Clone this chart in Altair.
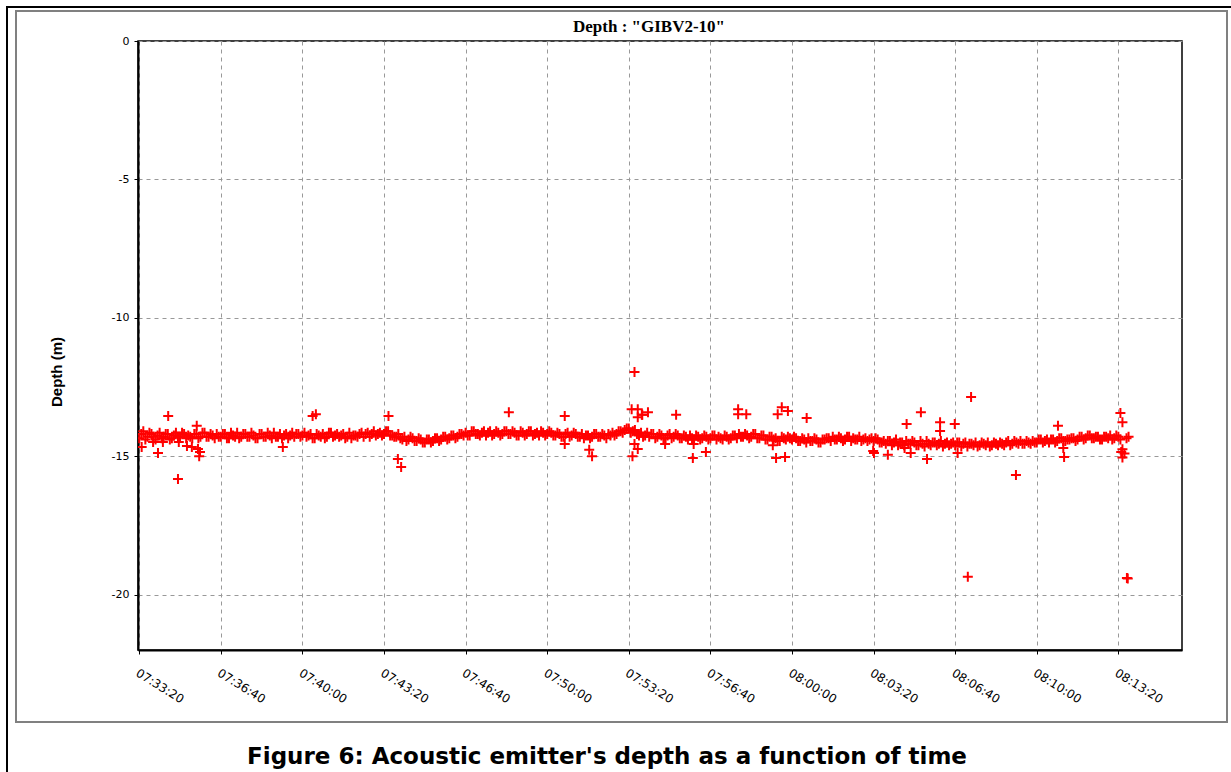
import altair as alt
import pandas as pd

# ---------------- data ----------------
x_tick_labels = ["07:33:20", "07:36:40", "07:40:00", "07:43:20", "07:46:40",
                 "07:50:00", "07:53:20", "07:56:40", "08:00:00", "08:03:20",
                 "08:06:40", "08:10:00", "08:13:20"]
y_tick_values = [0, -5, -10, -15, -20]

band_start = "07:33:20"
band_step_s = 10
# dense band, samples on the 10 s marks
band_depth = [
    -14.35, -14.1, -14.3, -14.2, -14.4, -14.15, -14.3, -14.2, -14.35, -14.15,
    -14.3, -14.2, -14.25, -14.35, -14.2, -14.3, -14.15, -14.3, -14.25, -14.2,
    -14.3, -14.2, -14.35, -14.25, -14.15, -14.3, -14.2, -14.3, -14.25, -14.35,
    -14.2, -14.3, -14.25, -14.15, -14.3, -14.35, -14.2, -14.25, -14.3, -14.2,
    -14.25, -14.3, -14.2, -14.35, -14.25, -14.2, -14.3, -14.15, -14.25, -14.3,
    -14.2, -14.3, -14.35, -14.25, -14.2, -14.3, -14.15, -14.2, -14.25, -14.15,
    -14.2, -14.1, -14.25, -14.3, -14.35, -14.3, -14.4, -14.35, -14.45, -14.4,
    -14.5, -14.4, -14.45, -14.35, -14.4, -14.3, -14.35, -14.25, -14.3, -14.2,
    -14.15, -14.25, -14.1, -14.2, -14.15, -14.25, -14.1, -14.2, -14.15, -14.2,
    -14.1, -14.2, -14.15, -14.25, -14.15, -14.2, -14.1, -14.2, -14.25, -14.15,
    -14.2, -14.15, -14.25, -14.2, -14.3, -14.15, -14.25, -14.2, -14.3, -14.35,
    -14.25, -14.3, -14.2, -14.3, -14.25, -14.2, -14.15, -14.2, -14.1, -14.05,
    -14.0, -14.1, -14.2, -14.15, -14.25, -14.3, -14.2, -14.3, -14.25, -14.35,
    -14.2, -14.3, -14.25, -14.35, -14.3, -14.25, -14.4, -14.3, -14.35, -14.3,
    -14.35, -14.25, -14.3, -14.4, -14.3, -14.35, -14.25, -14.2, -14.3, -14.25,
    -14.3, -14.2, -14.35, -14.25, -14.4, -14.3, -14.35, -14.45, -14.35, -14.3,
    -14.4, -14.35, -14.45, -14.4, -14.35, -14.45, -14.4, -14.5, -14.4, -14.35,
    -14.3, -14.4, -14.35, -14.4, -14.3, -14.35, -14.4, -14.45, -14.35, -14.4,
    -14.45, -14.4, -14.5, -14.55, -14.45, -14.5, -14.6, -14.5, -14.45, -14.55,
    -14.5, -14.6, -14.55, -14.45, -14.6, -14.5, -14.55, -14.65, -14.5, -14.55,
    -14.6, -14.5, -14.55, -14.65, -14.55, -14.5, -14.6, -14.55, -14.5, -14.6,
    -14.55, -14.5, -14.6, -14.45, -14.55, -14.5, -14.45, -14.55, -14.5, -14.45,
    -14.5, -14.4, -14.45, -14.5, -14.4, -14.45, -14.35, -14.45, -14.4, -14.35,
    -14.4, -14.3, -14.35, -14.25, -14.35, -14.3, -14.4, -14.3, -14.25, -14.35,
    -14.3, -14.75, -14.35,
]
# dense band, samples on the 5 s marks in between
band_depth_mid = [
    -14.2, -14.4, -14.15, -14.3, -14.25, -14.35, -14.2, -14.4, -14.25, -14.3,
    -14.15, -14.35, -14.3, -14.2, -14.35, -14.15, -14.3, -14.2, -14.35, -14.3,
    -14.2, -14.35, -14.15, -14.3, -14.35, -14.2, -14.3, -14.15, -14.35, -14.2,
    -14.3, -14.15, -14.35, -14.3, -14.2, -14.25, -14.35, -14.15, -14.2, -14.3,
    -14.15, -14.25, -14.35, -14.2, -14.3, -14.35, -14.15, -14.3, -14.2, -14.25,
    -14.35, -14.15, -14.25, -14.3, -14.15, -14.2, -14.3, -14.1, -14.2, -14.25,
    -14.1, -14.25, -14.3, -14.2, -14.4, -14.45, -14.3, -14.45, -14.35, -14.5,
    -14.4, -14.5, -14.35, -14.45, -14.3, -14.4, -14.25, -14.35, -14.2, -14.25,
    -14.25, -14.1, -14.2, -14.25, -14.1, -14.15, -14.25, -14.1, -14.25, -14.1,
    -14.2, -14.1, -14.25, -14.1, -14.25, -14.1, -14.25, -14.15, -14.1, -14.25,
    -14.1, -14.25, -14.15, -14.3, -14.2, -14.3, -14.15, -14.3, -14.2, -14.25,
    -14.35, -14.2, -14.3, -14.2, -14.35, -14.25, -14.25, -14.1, -14.15, -14.0,
    -14.15, -14.05, -14.25, -14.3, -14.15, -14.2, -14.35, -14.2, -14.35, -14.25,
    -14.35, -14.2, -14.35, -14.25, -14.4, -14.35, -14.25, -14.4, -14.25, -14.4,
    -14.25, -14.4, -14.35, -14.25, -14.4, -14.25, -14.35, -14.3, -14.2, -14.35,
    -14.2, -14.35, -14.25, -14.4, -14.3, -14.4, -14.45, -14.3, -14.4, -14.35,
    -14.3, -14.45, -14.35, -14.5, -14.45, -14.35, -14.5, -14.4, -14.35, -14.45,
    -14.4, -14.3, -14.45, -14.3, -14.45, -14.4, -14.3, -14.4, -14.45, -14.35,
    -14.35, -14.5, -14.45, -14.45, -14.6, -14.4, -14.5, -14.6, -14.55, -14.45,
    -14.6, -14.45, -14.65, -14.55, -14.5, -14.6, -14.45, -14.55, -14.6, -14.5,
    -14.5, -14.65, -14.5, -14.55, -14.6, -14.65, -14.5, -14.6, -14.65, -14.5,
    -14.6, -14.55, -14.5, -14.6, -14.45, -14.55, -14.55, -14.45, -14.55, -14.5,
    -14.4, -14.5, -14.4, -14.4, -14.5, -14.35, -14.45, -14.4, -14.35, -14.45,
    -14.3, -14.4, -14.25, -14.35, -14.3, -14.4, -14.3, -14.35, -14.4, -14.25,
    -14.4, -14.9, -14.3,
]

# isolated points: seconds after 07:33:20, depth (m)
outlier_sec = [6, 46, 71, 95, 141, 147, 149, 144, 129, 117, 97, 58, 34, 352,
               425, 433, 611, 634, 642, 906, 1043, 1043, 1103, 1110, 1214,
               1207, 1222, 1222, 1232, 1209, 1214, 1222, 1247, 1233, 1316,
               1357, 1359, 1389, 1289, 1468, 1468, 1488, 1561, 1583, 1565,
               1575, 1590, 1636, 1553, 1799, 1801, 1835, 1881, 1916, 1931,
               1963, 1963, 1999, 2039, 2006, 1891, 1876, 2149, 2252, 2267,
               2265, 2405, 2410, 2031, 2421, 2423, 2407, 2410]
outlier_depth = [-14.67, -14.88, -13.55, -15.82, -13.9, -15.0, -14.85, -14.74,
                 -14.67, -14.63, -14.49, -14.49, -14.49, -14.67, -13.55, -13.48,
                 -13.55, -15.1, -15.39, -13.41, -13.55, -14.56, -14.77, -15.0,
                 -11.96, -13.3, -13.3, -13.59, -13.5, -15.0, -14.56, -14.74,
                 -13.41, -13.5, -13.5, -15.06, -14.56, -14.85, -14.56, -13.3,
                 -13.48, -13.48, -15.06, -15.03, -13.48, -13.23, -13.37, -13.62,
                 -14.6, -14.81, -14.88, -14.95, -13.84, -13.41, -15.1, -13.77,
                 -14.09, -13.84, -12.86, -14.88, -14.88, -14.7, -15.68, -13.9,
                 -15.03, -14.7, -13.44, -13.77, -19.35, -19.4, -19.42, -14.85,
                 -15.05]

title_text = 'Depth : "GIBV2-10"'
y_title_text = "Depth (m)"
caption_text = "Figure 6: Acoustic emitter's depth as a function of time"

# ---------------- build tables ----------------
def hms_to_s(s):
    h, m, sec = (int(v) for v in s.split(":"))
    return h * 3600 + m * 60 + sec

t0 = hms_to_s(band_start)
tick_vals = [hms_to_s(s) for s in x_tick_labels]

secs = ([t0 + i * band_step_s for i in range(len(band_depth))]
        + [t0 + 5 + i * band_step_s for i in range(len(band_depth_mid))]
        + [t0 + s for s in outlier_sec])
pts = pd.DataFrame({"sec": secs, "depth": band_depth + band_depth_mid + outlier_depth})

W, H = 1044, 609
PAD = {"left": 138, "top": 41, "right": 49, "bottom": 122}

one = pd.DataFrame({"k": [0]})

x_scale = alt.Scale(domain=[t0 - 3, t0 + 2556], nice=False, zero=False)
y_scale = alt.Scale(domain=[-22, 0], nice=False, zero=False)

points = alt.Chart(pts).mark_point(
    shape="M-1,0L1,0M0,-1L0,1", size=100, filled=False, strokeWidth=2,
    color="#ff0000", opacity=1, clip=True,
).encode(
    x=alt.X("sec:Q", scale=x_scale, axis=alt.Axis(
        values=tick_vals, title=None,
        labelExpr="utcFormat(datum.value * 1000, '%H:%M:%S')",
        labelAngle=32, labelAlign="left", labelBaseline="top",
        labelFont="DejaVu Sans", labelFontSize=12, labelColor="#000",
        labelPadding=13, tickSize=4, tickColor="#000",
        domainColor="#000", domainWidth=2,
        grid=True, gridColor="#999999", gridDash=[4, 4], gridWidth=1,
        labelOverlap=False, labelFlush=False,
    )),
    y=alt.Y("depth:Q", scale=y_scale, axis=alt.Axis(
        values=y_tick_values, title=None,
        labelExpr="toString(datum.value)",
        labelFont="DejaVu Sans", labelFontSize=11, labelColor="#000",
        labelPadding=5, tickSize=4, tickColor="#000",
        domainColor="#000", domainWidth=2,
        grid=True, gridColor="#999999", gridDash=[4, 4], gridWidth=1,
        labelOverlap=False,
    )),
)

outer = alt.Chart(one).mark_rect(fill=None, stroke="#000", strokeWidth=2, clip=False).encode(
    x=alt.value(7 - 138), x2=alt.value(1240 - 138),
    y=alt.value(7 - 41), y2=alt.value(790 - 41),
)
inner = alt.Chart(one).mark_rect(fill=None, stroke="#808080", strokeWidth=2, clip=False).encode(
    x=alt.value(16 - 138), x2=alt.value(1227 - 138),
    y=alt.value(11 - 41), y2=alt.value(722 - 41),
)

title = alt.Chart(one).mark_text(
    text=title_text, font="Liberation Serif", fontSize=17, fontWeight="bold",
    color="#000", align="center", baseline="middle", clip=False,
).encode(x=alt.value(649 - 138), y=alt.value(27 - 41))

ytitle = alt.Chart(one).mark_text(
    text=y_title_text, font="Liberation Sans", fontSize=15, fontWeight="bold",
    color="#000", align="center", baseline="middle", angle=270, clip=False,
).encode(x=alt.value(57 - 138), y=alt.value(372 - 41))

caption = alt.Chart(one).mark_text(
    text=caption_text, font="DejaVu Sans", fontSize=23, fontWeight="bold",
    color="#000", align="center", baseline="middle", clip=False,
).encode(x=alt.value(607 - 138), y=alt.value(757 - 41))

chart = alt.layer(outer, inner, points, title, ytitle, caption).properties(
    width=W, height=H, padding=PAD,
    autosize=alt.AutoSizeParams(type="none"),
    background="white",
).configure_view(stroke="#000", strokeWidth=1.5)

chart.save("out.html", embed_options={"renderer": "svg", "actions": False})
